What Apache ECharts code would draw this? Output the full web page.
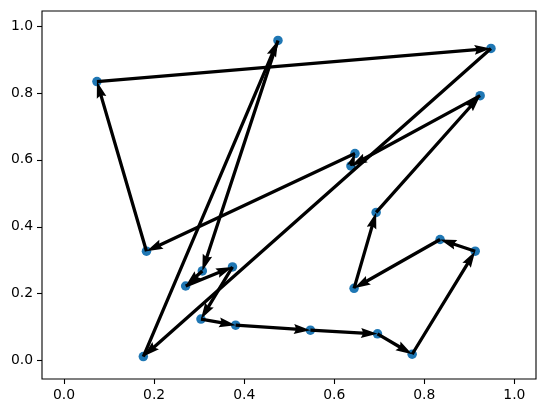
<!DOCTYPE html>
<html>
<head>
<meta charset="utf-8">
<script src="https://cdn.jsdelivr.net/npm/echarts@6/dist/echarts.min.js"></script>
<style>
  html, body { margin: 0; padding: 0; background: #fff; }
  #chart { width: 547px; height: 413px; }
</style>
</head>
<body>
<div id="chart"></div>
<script>
// points in visiting order, the tour closes back on the first one
const xs = [0.176, 0.475, 0.307, 0.270, 0.374, 0.304, 0.381, 0.547, 0.696, 0.773,
            0.913, 0.835, 0.644, 0.693, 0.924, 0.637, 0.646, 0.183, 0.073, 0.948];
const ys = [0.012, 0.957, 0.268, 0.223, 0.280, 0.124, 0.106, 0.091, 0.080, 0.019,
            0.327, 0.362, 0.216, 0.443, 0.792, 0.582, 0.619, 0.327, 0.834, 0.933];
const tickValues = [0, 0.2, 0.4, 0.6, 0.8, 1.0];

const points = xs.map((x, i) => [x, ys[i]]);
const arrows = xs.map((x, i) => {
  const j = (i + 1) % xs.length;
  return [x, ys[i], xs[j], ys[j]];
});

// shaft width in px, head shape like matplotlib quiver defaults
const W = 3.3, HL = 5, HAL = 4.5, HW = 3;

function arrowShape(params, api) {
  const p0 = api.coord([api.value(0), api.value(1)]);
  const p1 = api.coord([api.value(2), api.value(3)]);
  const dx = p1[0] - p0[0], dy = p1[1] - p0[1];
  const len = Math.sqrt(dx * dx + dy * dy) / W;
  let pts;
  if (len < HL) {
    const s = len / HL;
    pts = [[0, 0.5], [HL - HAL, 0.5], [0, HW / 2], [HL, 0], [0, -HW / 2], [HL - HAL, -0.5], [0, -0.5]]
      .map(p => [p[0] * s, p[1] * s]);
  } else {
    pts = [[0, 0.5], [len - HAL, 0.5], [len - HL, HW / 2], [len, 0], [len - HL, -HW / 2], [len - HAL, -0.5], [0, -0.5]];
  }
  const a = Math.atan2(dy, dx), c = Math.cos(a), sn = Math.sin(a);
  const out = pts.map(p => {
    const u = p[0] * W, v = p[1] * W;
    return [p0[0] + u * c - v * sn, p0[1] + u * sn + v * c];
  });
  return { type: 'polygon', shape: { points: out }, style: { fill: '#000' } };
}

const labelStyle = { color: '#000', fontSize: 13.9, fontFamily: 'DejaVu Sans' };

const chart = echarts.init(document.getElementById('chart'));
chart.setOption({
  backgroundColor: '#fff',
  animation: false,
  grid: { left: 42, right: 11, top: 11, bottom: 34, show: true, borderColor: '#000', borderWidth: 1.1, backgroundColor: 'transparent' },
  xAxis: {
    type: 'value', min: -0.049, max: 1.048,
    axisLine: { show: false, onZero: false },
    splitLine: { show: false },
    axisTick: { show: true, inside: false, length: 5, lineStyle: { color: '#000', width: 1.1 }, customValues: tickValues },
    axisLabel: Object.assign({ margin: 9, customValues: tickValues, formatter: v => v.toFixed(1) }, labelStyle)
  },
  yAxis: {
    type: 'value', min: -0.055, max: 1.045,
    axisLine: { show: false, onZero: false },
    splitLine: { show: false },
    axisTick: { show: true, inside: false, length: 5, lineStyle: { color: '#000', width: 1.1 }, customValues: tickValues },
    axisLabel: Object.assign({ margin: 9, customValues: tickValues, formatter: v => v.toFixed(1) }, labelStyle)
  },
  series: [
    {
      type: 'scatter',
      data: points,
      symbolSize: 9.5,
      itemStyle: { color: '#1f77b4', opacity: 1 },
      z: 2
    },
    {
      type: 'custom',
      data: arrows,
      encode: { x: [0, 2], y: [1, 3] },
      renderItem: arrowShape,
      z: 3
    }
  ]
});
</script>
</body>
</html>
